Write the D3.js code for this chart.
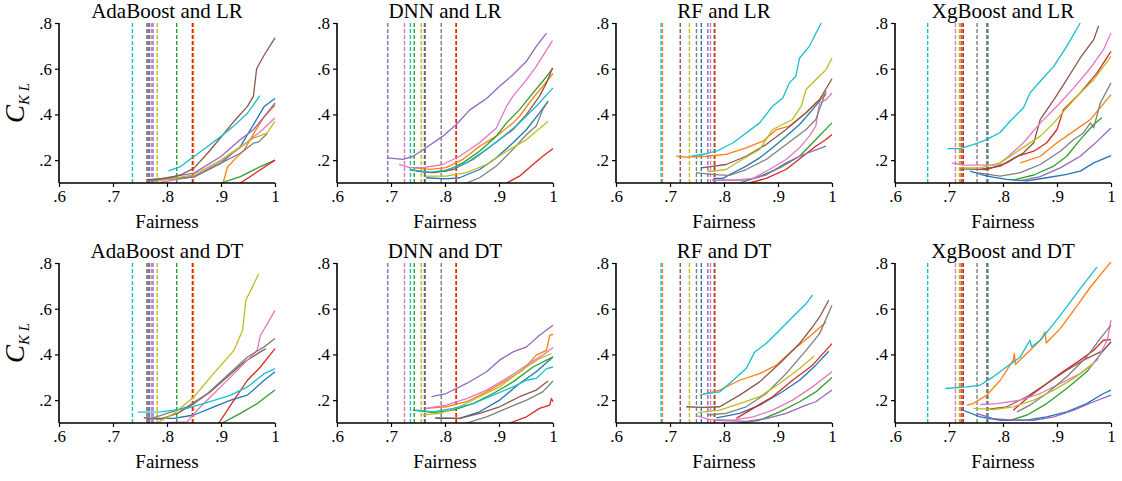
<!DOCTYPE html>
<html>
<head>
<meta charset="utf-8">
<script src="https://cdn.jsdelivr.net/npm/d3@7"></script>
<style>
  body { margin: 0; background: #fff; }
</style>
</head>
<body>
<div id="container"></div>
<script>
let w = 1122;
let h = 481;
let serif = "'Liberation Serif', 'Times New Roman', 'DejaVu Serif', serif";

// tab10 order: blue, orange, green, red, purple, brown, pink, gray, olive, cyan
let colors = ["#1f77b4", "#ff7f0e", "#2ca02c", "#d62728", "#9467bd",
              "#8c564b", "#e377c2", "#7f7f7f", "#bcbd22", "#17becf"];

let xTicks = [0.6, 0.7, 0.8, 0.9, 1.0];
let xTickLabels = [".6", ".7", ".8", ".9", "1"];
let yTicks = [0.2, 0.4, 0.6, 0.8];
let yTickLabels = [".2", ".4", ".6", ".8"];

let titles = ["AdaBoost and LR", "DNN and LR", "RF and LR", "XgBoost and LR",
              "AdaBoost and DT", "DNN and DT", "RF and DT", "XgBoost and DT"];

// dashed vertical lines, one per colour, same in both rows of a column
let adaLines = [0.767, 0.849, 0.818, 0.847, 0.774, 0.763, 0.771, 0.765, 0.782, 0.736];
let dnnLines = [0.762, 0.820, 0.743, 0.821, 0.694, 0.763, 0.725, 0.793, 0.756, 0.736];
let rfLines  = [0.758, 0.686, 0.782, 0.783, 0.770, 0.719, 0.775, 0.749, 0.736, 0.6835];
let xgLines  = [0.771, 0.722, 0.772, 0.7265, 0.770, 0.724, 0.712, 0.752, 0.719, 0.6605];

// curves, [fairness, C_KL] points, one list per colour
let adaLR = [
  [[0.767,0.114],[0.85,0.128],[0.9,0.187],[0.936,0.26],[0.96,0.355],[0.98,0.435],[1.0,0.47]],
  [[0.88,0.06],[0.904,0.1],[0.912,0.17],[0.924,0.2],[0.943,0.245],[0.961,0.318],[0.98,0.39],[1.0,0.44]],
  [[0.86,0.07],[0.9,0.1],[0.936,0.128],[0.973,0.172],[1.0,0.2]],
  [[0.9,0.07],[0.936,0.1],[0.973,0.158],[1.0,0.2]],
  [[0.774,0.114],[0.85,0.143],[0.9,0.216],[0.936,0.29],[0.96,0.333],[0.98,0.39],[1.0,0.45]],
  [[0.763,0.115],[0.8,0.12],[0.825,0.135],[0.85,0.165],[0.875,0.23],[0.9,0.3],[0.924,0.37],[0.949,0.435],[0.96,0.48],[0.966,0.6],[0.98,0.66],[1.0,0.735]],
  [[0.788,0.103],[0.85,0.128],[0.9,0.196],[0.936,0.255],[0.973,0.325],[1.0,0.384]],
  [[0.765,0.108],[0.85,0.126],[0.9,0.187],[0.936,0.23],[0.96,0.274],[0.97,0.28],[0.986,0.318]],
  [[0.776,0.106],[0.85,0.136],[0.9,0.2],[0.936,0.26],[0.96,0.296],[0.985,0.318],[1.0,0.37]],
  [[0.803,0.153],[0.825,0.172],[0.85,0.216],[0.875,0.26],[0.9,0.304],[0.924,0.35],[0.949,0.405],[0.972,0.482]]
];

let dnnLR = [
  [[0.765,0.123],[0.802,0.118],[0.827,0.123],[0.864,0.159],[0.895,0.21],[0.926,0.276],[0.951,0.334],[0.975,0.407],[0.991,0.458]],
  [[0.741,0.167],[0.772,0.16],[0.802,0.167],[0.833,0.203],[0.864,0.261],[0.895,0.305],[0.926,0.363],[0.938,0.392],[0.963,0.472],[0.981,0.523],[1.0,0.579]],
  [[0.736,0.156],[0.771,0.145],[0.802,0.152],[0.833,0.188],[0.864,0.239],[0.895,0.305],[0.914,0.363],[0.938,0.421],[0.963,0.494],[0.981,0.545],[1.0,0.603]],
  [[0.88,0.06],[0.914,0.1],[0.938,0.13],[0.963,0.181],[0.981,0.217],[1.0,0.251]],
  [[0.693,0.21],[0.722,0.203],[0.741,0.217],[0.765,0.254],[0.796,0.305],[0.821,0.356],[0.846,0.42],[0.877,0.47],[0.901,0.523],[0.926,0.574],[0.951,0.633],[0.969,0.698],[0.988,0.756]],
  [[0.747,0.152],[0.778,0.145],[0.815,0.159],[0.852,0.203],[0.889,0.268],[0.926,0.334],[0.951,0.4],[0.975,0.48],[0.988,0.538],[0.999,0.603]],
  [[0.715,0.181],[0.735,0.167],[0.759,0.167],[0.796,0.181],[0.827,0.217],[0.864,0.276],[0.895,0.341],[0.914,0.436],[0.926,0.48],[0.951,0.552],[0.969,0.61],[0.999,0.723]],
  [[0.793,0.08],[0.84,0.1],[0.864,0.123],[0.895,0.174],[0.926,0.247],[0.951,0.312],[0.969,0.349],[0.981,0.421],[0.991,0.458]],
  [[0.765,0.13],[0.802,0.13],[0.84,0.145],[0.877,0.181],[0.914,0.239],[0.951,0.29],[0.991,0.37]],
  [[0.735,0.159],[0.772,0.148],[0.802,0.156],[0.84,0.188],[0.877,0.247],[0.901,0.29],[0.938,0.363],[0.969,0.436],[1.0,0.516]]
];

let rfLR = [
  [[0.78,0.12],[0.798,0.12],[0.817,0.145],[0.841,0.174],[0.866,0.21],[0.89,0.254],[0.915,0.305],[0.94,0.356],[0.964,0.421],[0.989,0.494]],
  [[0.712,0.217],[0.73,0.213],[0.767,0.217],[0.804,0.225],[0.841,0.254],[0.872,0.283],[0.897,0.334],[0.921,0.349],[0.952,0.407],[0.97,0.45],[0.989,0.487]],
  [[0.8,0.08],[0.829,0.1],[0.866,0.128],[0.903,0.166],[0.94,0.217],[0.97,0.29],[1.0,0.363]],
  [[0.82,0.08],[0.847,0.1],[0.878,0.12],[0.915,0.159],[0.946,0.217],[0.97,0.261],[0.989,0.29],[1.0,0.312]],
  [[0.778,0.113],[0.841,0.113],[0.878,0.135],[0.915,0.188],[0.94,0.217],[0.964,0.239],[0.989,0.261]],
  [[0.758,0.166],[0.804,0.181],[0.841,0.217],[0.878,0.268],[0.915,0.334],[0.952,0.407],[0.977,0.465],[1.0,0.556]],
  [[0.778,0.113],[0.817,0.113],[0.854,0.12],[0.884,0.159],[0.915,0.203],[0.94,0.254],[0.958,0.305],[0.97,0.349],[0.977,0.45],[0.989,0.465],[1.0,0.494]],
  [[0.748,0.145],[0.774,0.138],[0.81,0.133],[0.841,0.159],[0.878,0.203],[0.915,0.268],[0.952,0.334],[0.97,0.378],[0.989,0.501]],
  [[0.77,0.149],[0.804,0.159],[0.829,0.196],[0.866,0.247],[0.89,0.334],[0.927,0.378],[0.943,0.436],[0.952,0.509],[0.97,0.552],[0.989,0.596],[1.0,0.647]],
  [[0.74,0.217],[0.767,0.228],[0.786,0.239],[0.817,0.276],[0.841,0.319],[0.866,0.363],[0.89,0.436],[0.909,0.472],[0.921,0.538],[0.933,0.567],[0.94,0.647],[0.958,0.698],[0.98,0.8]]
];

let xgLR = [
  [[0.739,0.152],[0.77,0.13],[0.807,0.116],[0.844,0.109],[0.881,0.123],[0.918,0.138],[0.943,0.152],[0.968,0.188],[1.0,0.22]],
  [[0.832,0.188],[0.869,0.217],[0.9,0.276],[0.931,0.327],[0.962,0.378],[1.0,0.487]],
  [[0.819,0.113],[0.857,0.135],[0.894,0.174],[0.918,0.217],[0.943,0.29],[0.968,0.356],[0.983,0.385]],
  [[0.758,0.159],[0.795,0.174],[0.826,0.217],[0.857,0.239],[0.881,0.276],[0.9,0.334],[0.912,0.421],[0.943,0.494],[0.974,0.581],[1.0,0.676]],
  [[0.835,0.111],[0.869,0.128],[0.906,0.166],[0.943,0.217],[0.968,0.268],[1.0,0.341]],
  [[0.72,0.162],[0.77,0.159],[0.807,0.188],[0.838,0.232],[0.857,0.276],[0.869,0.378],[0.894,0.464],[0.918,0.552],[0.943,0.647],[0.968,0.727],[0.977,0.788]],
  [[0.705,0.188],[0.727,0.178],[0.758,0.178],[0.789,0.178],[0.807,0.21],[0.838,0.276],[0.869,0.363],[0.9,0.436],[0.931,0.516],[0.962,0.603],[0.986,0.683],[1.0,0.756]],
  [[0.751,0.145],[0.795,0.13],[0.832,0.145],[0.869,0.181],[0.906,0.239],[0.931,0.29],[0.949,0.319],[0.962,0.363],[0.968,0.341],[0.98,0.449],[1.0,0.538]],
  [[0.72,0.166],[0.758,0.166],[0.795,0.188],[0.832,0.247],[0.869,0.305],[0.894,0.363],[0.918,0.429],[0.943,0.494],[0.968,0.552],[1.0,0.654]],
  [[0.697,0.25],[0.72,0.25],[0.745,0.268],[0.77,0.29],[0.795,0.322],[0.813,0.37],[0.838,0.429],[0.85,0.494],[0.869,0.545],[0.894,0.61],[0.918,0.698],[0.943,0.8]]
];

let adaDT = [
  [[0.763,0.12],[0.813,0.12],[0.85,0.135],[0.88,0.164],[0.918,0.2],[0.949,0.222],[0.98,0.287],[1.0,0.324]],
  [],
  [[0.87,0.07],[0.902,0.1],[0.936,0.142],[0.967,0.185],[1.0,0.244]],
  [[0.88,0.07],[0.896,0.1],[0.924,0.2],[0.949,0.287],[0.973,0.345],[1.0,0.425]],
  [],
  [[0.757,0.123],[0.788,0.117],[0.819,0.142],[0.85,0.185],[0.88,0.236],[0.912,0.302],[0.943,0.367],[0.973,0.411],[0.983,0.425]],
  [[0.8,0.102],[0.837,0.105],[0.862,0.171],[0.887,0.229],[0.924,0.316],[0.949,0.375],[0.967,0.418],[0.973,0.484],[0.986,0.535],[1.0,0.593]],
  [[0.765,0.115],[0.8,0.142],[0.837,0.171],[0.875,0.229],[0.912,0.309],[0.949,0.389],[0.98,0.433],[1.0,0.47]],
  [[0.782,0.1],[0.813,0.142],[0.85,0.215],[0.887,0.318],[0.924,0.418],[0.94,0.506],[0.946,0.637],[0.97,0.753]],
  [[0.746,0.148],[0.788,0.149],[0.837,0.164],[0.88,0.193],[0.918,0.222],[0.949,0.258],[0.98,0.316],[1.0,0.338]]
];

let dnnDT = [
  [[0.784,0.12],[0.827,0.12],[0.864,0.149],[0.901,0.2],[0.938,0.273],[0.969,0.324],[1.0,0.389]],
  [[0.765,0.164],[0.802,0.171],[0.84,0.193],[0.877,0.236],[0.914,0.287],[0.944,0.331],[0.969,0.397],[0.988,0.418],[0.994,0.484],[1.0,0.488]],
  [[0.741,0.156],[0.778,0.145],[0.815,0.156],[0.852,0.185],[0.889,0.229],[0.926,0.28],[0.963,0.345],[1.0,0.389]],
  [[0.89,0.07],[0.92,0.1],[0.951,0.127],[0.975,0.164],[0.994,0.178],[0.997,0.207],[1.0,0.193]],
  [[0.775,0.215],[0.802,0.229],[0.84,0.273],[0.877,0.324],[0.901,0.375],[0.926,0.411],[0.951,0.433],[0.975,0.484],[1.0,0.528]],
  [[0.781,0.122],[0.827,0.12],[0.864,0.142],[0.901,0.171],[0.938,0.215],[0.969,0.244],[0.991,0.284]],
  [[0.765,0.164],[0.802,0.178],[0.84,0.207],[0.877,0.244],[0.914,0.295],[0.951,0.353],[0.981,0.397],[1.0,0.43]],
  [[0.81,0.08],[0.84,0.1],[0.877,0.127],[0.914,0.164],[0.951,0.2],[0.981,0.236],[1.0,0.284]],
  [[0.759,0.135],[0.79,0.142],[0.827,0.171],[0.864,0.215],[0.901,0.258],[0.938,0.324],[0.975,0.382],[0.997,0.404]],
  [[0.746,0.156],[0.778,0.149],[0.815,0.164],[0.852,0.185],[0.889,0.222],[0.926,0.258],[0.951,0.287],[0.969,0.295],[0.988,0.338],[1.0,0.345]]
];

let rfDT = [
  [[0.786,0.122],[0.829,0.142],[0.866,0.178],[0.903,0.229],[0.94,0.287],[0.97,0.353],[0.994,0.414]],
  [[0.755,0.222],[0.792,0.244],[0.829,0.287],[0.866,0.316],[0.897,0.353],[0.927,0.418],[0.958,0.477],[0.989,0.542]],
  [[0.8,0.08],[0.829,0.1],[0.866,0.112],[0.903,0.149],[0.94,0.193],[0.97,0.236],[1.0,0.299]],
  [[0.823,0.12],[0.854,0.164],[0.89,0.215],[0.927,0.287],[0.964,0.353],[1.0,0.447]],
  [[0.786,0.112],[0.841,0.107],[0.878,0.119],[0.915,0.142],[0.952,0.178],[0.97,0.193],[1.0,0.244]],
  [[0.73,0.171],[0.761,0.168],[0.792,0.171],[0.829,0.222],[0.866,0.28],[0.903,0.36],[0.94,0.448],[0.964,0.52],[0.977,0.564],[0.994,0.637]],
  [[0.749,0.132],[0.774,0.115],[0.817,0.113],[0.854,0.127],[0.89,0.156],[0.927,0.2],[0.964,0.258],[1.0,0.324]],
  [[0.77,0.135],[0.804,0.142],[0.841,0.171],[0.878,0.229],[0.915,0.316],[0.952,0.418],[0.977,0.491],[1.0,0.615]],
  [[0.752,0.145],[0.792,0.156],[0.829,0.185],[0.866,0.215],[0.903,0.273],[0.94,0.338],[0.967,0.393]],
  [[0.761,0.226],[0.792,0.236],[0.817,0.287],[0.841,0.338],[0.857,0.411],[0.878,0.448],[0.903,0.506],[0.927,0.564],[0.952,0.622],[0.964,0.659]]
];

let xgDT = [
  [[0.722,0.159],[0.758,0.127],[0.795,0.112],[0.844,0.112],[0.881,0.127],[0.918,0.149],[0.955,0.185],[0.986,0.229],[1.0,0.244]],
  [[0.733,0.178],[0.745,0.185],[0.77,0.222],[0.795,0.287],[0.819,0.375],[0.821,0.404],[0.823,0.356],[0.844,0.404],[0.869,0.462],[0.878,0.498],[0.88,0.45],[0.906,0.513],[0.931,0.593],[0.962,0.695],[1.0,0.805]],
  [[0.813,0.112],[0.844,0.134],[0.881,0.185],[0.918,0.251],[0.955,0.324],[0.986,0.418],[1.0,0.455]],
  [[0.819,0.156],[0.844,0.207],[0.869,0.251],[0.906,0.316],[0.943,0.375],[0.968,0.418],[0.986,0.462],[1.0,0.465]],
  [[0.751,0.142],[0.782,0.119],[0.819,0.112],[0.857,0.112],[0.894,0.127],[0.931,0.156],[0.968,0.193],[1.0,0.222]],
  [[0.77,0.159],[0.807,0.171],[0.844,0.215],[0.881,0.273],[0.918,0.331],[0.955,0.382],[0.986,0.418],[1.0,0.455]],
  [[0.758,0.181],[0.789,0.185],[0.832,0.2],[0.869,0.229],[0.906,0.273],[0.943,0.316],[0.974,0.375],[0.993,0.462],[1.0,0.55]],
  [[0.826,0.149],[0.85,0.178],[0.881,0.229],[0.918,0.302],[0.955,0.389],[0.98,0.469],[1.0,0.528]],
  [[0.745,0.164],[0.782,0.159],[0.819,0.171],[0.857,0.2],[0.894,0.244],[0.931,0.295],[0.968,0.36]],
  [[0.693,0.251],[0.733,0.258],[0.758,0.266],[0.782,0.302],[0.807,0.346],[0.832,0.389],[0.85,0.462],[0.853,0.433],[0.869,0.462],[0.894,0.535],[0.918,0.608],[0.943,0.688],[0.974,0.782]]
];

let panelLines = [adaLines, dnnLines, rfLines, xgLines, adaLines, dnnLines, rfLines, xgLines];
let panelCurves = [adaLR, dnnLR, rfLR, xgLR, adaDT, dnnDT, rfDT, xgDT];

// layout
let colLeft = [59, 337, 616, 895];
let rowTop = [23, 263];
let pw = 216;
let ph = 160;

let viz = d3.select("#container")
  .append("svg")
    .attr("width", w)
    .attr("height", h)
    .style("background-color", "#ffffff");

let xScale = d3.scaleLinear().domain([0.6, 1.0]).range([0, pw]);
let yScale = d3.scaleLinear().domain([0.1, 0.8]).range([ph, 0]);

let line = d3.line()
  .x(function(d){ return xScale(d[0]); })
  .y(function(d){ return yScale(d[1]); });

titles.forEach(function(title, i){
  let col = i % 4;
  let row = Math.floor(i / 4);
  let g = viz.append("g")
    .attr("transform", "translate(" + colLeft[col] + "," + rowTop[row] + ")");

  g.append("clipPath").attr("id", "clip" + i)
    .append("rect").attr("x", 0).attr("y", -1).attr("width", pw + 2).attr("height", ph + 1);

  let plot = g.append("g").attr("clip-path", "url(#clip" + i + ")");

  // dashed vertical lines
  plot.selectAll(".vline").data(panelLines[i]).enter()
    .append("line")
      .attr("class", "vline")
      .attr("x1", function(d){ return xScale(d); })
      .attr("x2", function(d){ return xScale(d); })
      .attr("y1", yScale(0.8))
      .attr("y2", yScale(0.1))
      .attr("stroke", function(d, k){ return colors[k]; })
      .attr("stroke-width", 1.4)
      .attr("stroke-dasharray", "4,2");

  // curves
  plot.selectAll(".curve").data(panelCurves[i]).enter()
    .append("path")
      .attr("class", "curve")
      .attr("d", function(d){ return d.length ? line(d) : null; })
      .attr("fill", "none")
      .attr("stroke", function(d, k){ return colors[k]; })
      .attr("stroke-width", 1.3)
      .attr("stroke-linejoin", "round");

  // axes
  let xAxis = d3.axisBottom(xScale).tickValues(xTicks)
    .tickFormat(function(d, k){ return xTickLabels[k]; }).tickSize(4).tickPadding(3);
  let xg = g.append("g").attr("transform", "translate(0," + ph + ")").call(xAxis);
  let yAxis = d3.axisLeft(yScale).tickValues(yTicks)
    .tickFormat(function(d, k){ return yTickLabels[k]; }).tickSize(4).tickPadding(3);
  let yg = g.append("g").call(yAxis);

  [xg, yg].forEach(function(ax){
    ax.attr("font-family", null).attr("font-size", null);
    ax.select(".domain").attr("stroke", "#000").attr("stroke-width", 1.6);
    ax.selectAll(".tick line").attr("stroke", "#000").attr("stroke-width", 1.2);
    ax.selectAll(".tick text")
      .attr("fill", "#000")
      .style("font-family", serif)
      .style("font-size", "17px");
  });
  xg.select(".domain").attr("d", "M0,0H" + pw);
  yg.select(".domain").attr("d", "M0," + ph + "V0");

  g.append("text")
    .attr("x", pw / 2)
    .attr("y", -5)
    .attr("text-anchor", "middle")
    .style("font-family", serif)
    .style("font-size", "21px")
    .text(title);

  g.append("text")
    .attr("x", pw / 2)
    .attr("y", ph + 45)
    .attr("text-anchor", "middle")
    .style("font-family", serif)
    .style("font-size", "19px")
    .text("Fairness");

  if(col == 0){
    let lab = g.append("text")
      .attr("transform", "translate(-35," + (ph / 2) + ") rotate(-90)")
      .attr("text-anchor", "middle")
      .style("font-family", serif);
    lab.append("tspan").style("font-size", "27px").style("font-style", "italic").text("C");
    lab.append("tspan").attr("dy", 5).style("font-size", "15px").style("font-style", "italic").text("K L");
  }
});
</script>
</body>
</html>
